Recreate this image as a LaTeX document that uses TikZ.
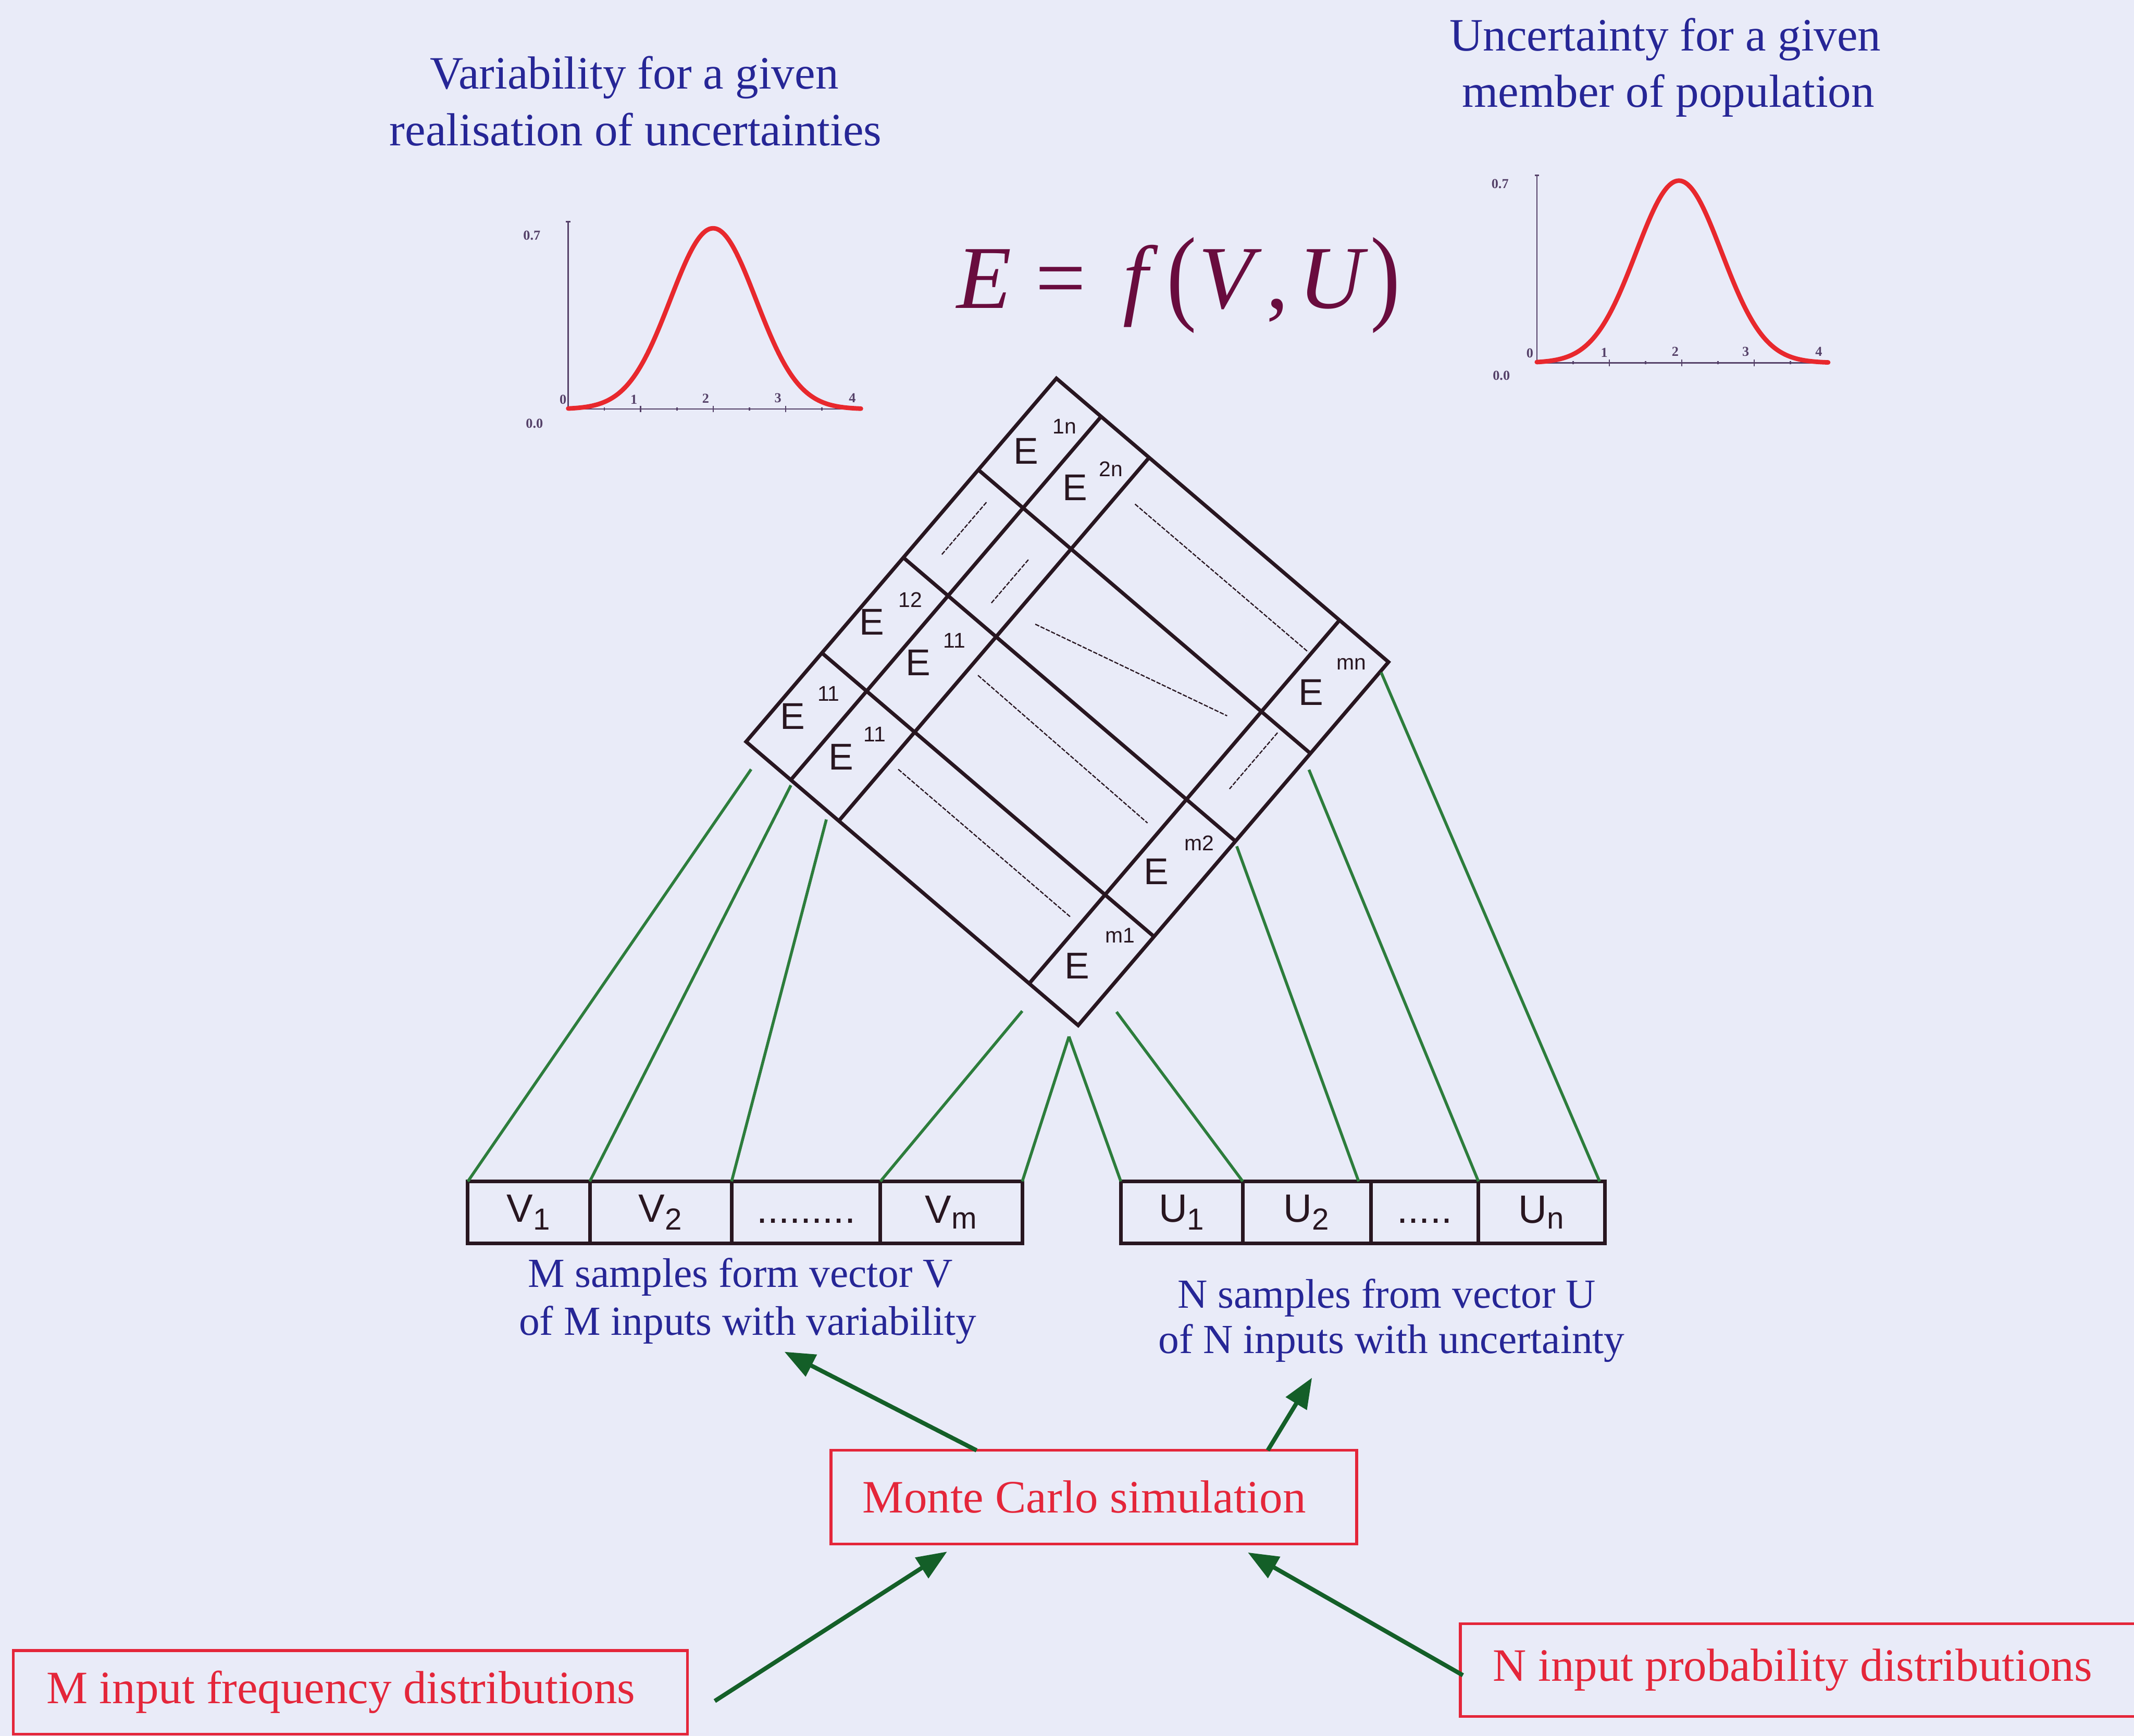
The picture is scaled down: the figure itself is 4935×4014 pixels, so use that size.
\documentclass[tikz,border=0pt]{standalone}
\usepackage{fontspec}
\setmainfont{Liberation Serif}
\newfontfamily\sansf{Liberation Sans}
\usetikzlibrary{arrows.meta}
\definecolor{bgc}{RGB}{233,235,248}
\definecolor{gridc}{RGB}{40,22,32}
\definecolor{greenl}{RGB}{45,125,60}
\definecolor{greena}{RGB}{20,95,40}
\definecolor{redc}{RGB}{228,38,58}
\definecolor{bluec}{RGB}{38,38,150}
\definecolor{formc}{RGB}{105,12,62}
\definecolor{axisc}{RGB}{85,65,105}
\definecolor{curvec}{RGB}{232,40,45}
\newcommand\fzbig{\fontsize{30.5}{37.5}\selectfont}
\newcommand\fzmid{\fontsize{27.2}{31}\selectfont}
\tikzset{
  gridline/.style={draw=gridc, line width=2.4pt, line join=miter},
  cellnote/.style={draw=gridc, line width=0.8pt, dash pattern=on 0.1cm off 0.035cm},
  vbox/.style={draw=gridc, line width=2.4pt, minimum height=1.43cm, inner sep=0pt, outer sep=0pt,
    font=\sansf\fontsize{26}{26}\selectfont, text=gridc},
  feed/.style={draw=greenl, line width=1.9pt},
  flow/.style={draw=greena, line width=2.8pt, -{Triangle[length=0.7cm,width=0.55cm]}},
  redbox/.style={draw=redc, line width=1.8pt, text=redc, font=\fzbig, inner sep=0pt, outer sep=0pt},
  redtxt/.style={text=redc, font=\fzbig, inner sep=0pt},
  bluetxt/.style={text=bluec, font=\fzbig, inner sep=0pt, anchor=base},
  bluesm/.style={text=bluec, font=\fzmid, inner sep=0pt, anchor=base},
  elab/.style={font=\sansf\fontsize{24.5}{25}\selectfont, text=gridc, inner sep=0pt},
  esup/.style={font=\sansf\fontsize{14}{14}\selectfont, text=gridc, inner sep=0pt},
  axisl/.style={draw=axisc, line width=0.9pt},
  curvel/.style={draw=curvec, line width=3pt, line cap=round},
  plab/.style={font=\fontsize{9}{10}\selectfont\bfseries, text=axisc, inner sep=0pt}
}
\newcommand\vsub[2]{\vphantom{V\textsubscript{1}}#1\textsubscript{\fontsize{20}{20}\selectfont #2}}
\begin{document}
\begin{tikzpicture}[x=0.01cm, y=-0.01cm]
\fill[bgc] (0,0) rectangle (4935,4014);
\useasboundingbox (0,0) rectangle (4935,4014);

% ---------- top captions ----------
\node[bluetxt] (tl1) at (1467,205) {Variability for a given};
\node[bluetxt] (tl2) at (1470,337) {realisation of uncertainties};
\node[bluetxt] (tr1) at (3851,118) {Uncertainty for a given};
\node[bluetxt] (tr2) at (3858,247) {member of population};

% ---------- formula ----------
\node[text=formc, font=\fontsize{59}{60}\selectfont, inner sep=0pt, anchor=base west] (formula) at (2212,713)
  {\textit{E}\hspace{0.55cm}=\hspace{0.85cm}\textit{f}\hspace{0.2cm}\raisebox{-0.06cm}{\scalebox{1}[1.18]{(}}\hspace{0.05cm}\textit{V}\hspace{0.1cm},\hspace{0.22cm}\textit{U}\hspace{0.05cm}\raisebox{-0.06cm}{\scalebox{1}[1.18]{)}}};

% ---------- left plot ----------
\coordinate (po1) at (1314,946);
\begin{scope}[shift={(po1)}, x=1.675cm, y=6.19cm]
  \draw[axisl] (0,0.7) -- (0,0) -- (4.04,0);
  \draw[axisl] (-0.03,0.7) -- (0.03,0.7);
  \foreach \tk in {1,2,3} \draw[axisl] (\tk,-0.012) -- (\tk,0.012);
  \foreach \tk in {0.5,1.5,2.5,3.5} \draw[axisl] (\tk,-0.006) -- (\tk,0.006);
  \draw[curvel] plot[domain=0:4.04, samples=90, smooth] (\x,{0.675*exp(-((\x-2)^2)/0.6962)});
\end{scope}
\node[plab] (la07) at (1230,545) {0.7};
\node[plab] (la00) at (1236,980) {0.0};
\node[plab] (la0) at (1302,924) {0};
\node[plab] (la1) at (1466,924) {1};
\node[plab] (la2) at (1632,922) {2};
\node[plab] (la3) at (1799,920) {3};
\node[plab] (la4) at (1971,920) {4};

% ---------- right plot ----------
\coordinate (po2) at (3554,839);
\begin{scope}[shift={(po2)}, x=1.675cm, y=6.19cm]
  \draw[axisl] (0,0.7) -- (0,0) -- (4.02,0);
  \draw[axisl] (-0.03,0.7) -- (0.03,0.7);
  \foreach \tk in {1,2,3} \draw[axisl] (\tk,-0.012) -- (\tk,0.012);
  \foreach \tk in {0.5,1.5,2.5,3.5} \draw[axisl] (\tk,-0.006) -- (\tk,0.006);
  \draw[curvel] plot[domain=0:4.02, samples=90, smooth] (\x,{0.68*exp(-((\x-1.96)^2)/0.6962)});
\end{scope}
\node[plab] (lb07) at (3469,425) {0.7};
\node[plab] (lb00) at (3472,869) {0.0};
\node[plab] (lb0) at (3538,817) {0};
\node[plab] (lb1) at (3710,815) {1};
\node[plab] (lb2) at (3874,813) {2};
\node[plab] (lb3) at (4037,813) {3};
\node[plab] (lb4) at (4206,813) {4};

% ---------- diamond matrix ----------
\coordinate (dtop) at (2443,875);
\begin{scope}[shift={(dtop)}, rotate=-40.5]
  \draw[gridline] (0,0) rectangle (1010,1105);
  \draw[gridline] (136,0) -- (136,1105);
  \draw[gridline] (282,0) -- (282,1105);
  \draw[gridline] (861,0) -- (861,1105);
  \draw[gridline] (0,278) -- (1010,278);
  \draw[gridline] (0,545) -- (1010,545);
  \draw[gridline] (0,835) -- (1010,835);
  \draw[cellnote] (63,323) -- (63,482);
  \draw[cellnote] (223,361) -- (223,493);
  \draw[cellnote] (921,291) -- (921,462);
  \draw[cellnote] (327,103) -- (854,103);
  \draw[cellnote] (332,464) -- (807,337);
  \draw[cellnote] (308,640) -- (828,645);
  \draw[cellnote] (309,925) -- (833,926);
\end{scope}
\node[elab] (e1n) at (2373,1043) {E};  \node[esup] (e1ns) at (2462,986) {1n};
\node[elab] (e2n) at (2486,1127) {E};  \node[esup] (e2ns) at (2569,1085) {2n};
\node[elab] (e12) at (2016,1438) {E};  \node[esup] (e12s) at (2105,1387) {12};
\node[elab] (e11a) at (2123,1532) {E}; \node[esup] (e11as) at (2207,1481) {11};
\node[elab] (e11b) at (1833,1656) {E}; \node[esup] (e11bs) at (1916,1604) {11};
\node[elab] (e11c) at (1945,1750) {E}; \node[esup] (e11cs) at (2023,1698) {11};
\node[elab] (emn) at (3032,1601) {E};  \node[esup] (emns) at (3125,1535) {mn};
\node[elab] (em2) at (2674,2016) {E};  \node[esup] (em2s) at (2773,1950) {m2};
\node[elab] (em1) at (2491,2234) {E};  \node[esup] (em1s) at (2590,2163) {m1};

% ---------- vectors ----------
\node[vbox, minimum width=2.82cm] (v1) at (1223,2803.5) {\vsub{V}{1}};
\node[vbox, minimum width=3.28cm] (v2) at (1528,2803.5) {\vsub{V}{2}};
\node[vbox, minimum width=3.44cm] (vd) at (1864,2803.5) {\vphantom{V\textsubscript{1}}.........};
\node[vbox, minimum width=3.28cm] (vm) at (2200,2803.5) {\vsub{V}{m}};
\node[vbox, minimum width=2.82cm] (u1) at (2733,2803.5) {\vsub{U}{1}};
\node[vbox, minimum width=2.96cm] (u2) at (3022,2803.5) {\vsub{U}{2}};
\node[vbox, minimum width=2.49cm] (ud) at (3294.5,2803.5) {\vphantom{V\textsubscript{1}}.....};
\node[vbox, minimum width=2.92cm] (un) at (3565,2803.5) {\vsub{U}{n}};

\node[bluesm] (ml1) at (1712,2977) {M samples form vector V};
\node[bluesm] (ml2) at (1729,3087) {of M inputs with variability};
\node[bluesm] (nl1) at (3207,3025) {N samples from vector U};
\node[bluesm] (nl2) at (3218,3130) {of N inputs with uncertainty};

% ---------- green feed lines ----------
\coordinate (g1) at (1737,1779);
\coordinate (g2) at (1829,1816);
\coordinate (g3) at (1911,1895);
\coordinate (g4) at (2364,2338);
\coordinate (gap) at (2472,2397);
\coordinate (g7) at (2582,2340);
\coordinate (g8) at (2860,1957);
\coordinate (g9) at (3027,1780);
\coordinate (g10) at (3194,1555);
\draw[feed] (v1.north west) -- (g1);
\draw[feed] (v2.north west) -- (g2);
\draw[feed] (vd.north west) -- (g3);
\draw[feed] (vm.north west) -- (g4);
\draw[feed] (vm.north east) -- (gap);
\draw[feed] (u1.north west) -- (gap);
\draw[feed] (u2.north west) -- (g7);
\draw[feed] ([xshift=-0.28cm]ud.north west) -- (g8);
\draw[feed] (un.north west) -- (g9);
\draw[feed] ([xshift=-0.12cm]un.north east) -- (g10);

% ---------- Monte Carlo part ----------
\node[redbox, minimum width=12.15cm, minimum height=2.16cm] (mc) at (2529.5,3462) {Monte Carlo simulation\kern0.44cm};
\node[redbox, anchor=north west, minimum width=15.58cm, minimum height=1.93cm] (mf) at (31,3817) {M input frequency distributions\kern0.44cm};
\node[redbox, anchor=west, minimum width=16cm, minimum height=2.14cm] (np) at (3377,3862) {};
\node[redtxt, anchor=west] (nptext) at ([xshift=0.75cm]np.west) {N input probability distributions};

\coordinate (ta) at (1814,3126);
\coordinate (tb) at (3034,3186);
\draw[flow] ([xshift=-2.71cm]mc.north) -- (ta);
\draw[flow] ([xshift=4.02cm]mc.north) -- (tb);
\draw[flow] ([shift={(0.63cm,-0.2cm)}]mf.east) -- ([shift={(-3.39cm,-0.18cm)}]mc.south);
\draw[flow] ([shift={(0.06cm,-0.12cm)}]np.west) -- ([shift={(3.56cm,-0.2cm)}]mc.south);
\end{tikzpicture}
\end{document}
